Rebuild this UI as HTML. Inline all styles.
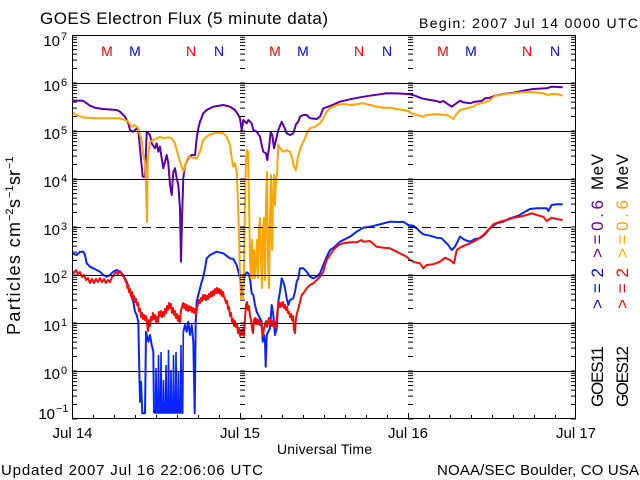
<!DOCTYPE html>
<html><head><meta charset="utf-8"><style>
html,body{margin:0;padding:0;background:#fff;}
svg{display:block;font-family:"Liberation Sans",sans-serif;}
</style></head><body>
<svg width="640" height="480" viewBox="0 0 640 480" xmlns="http://www.w3.org/2000/svg">
<rect width="640" height="480" fill="#fff"/>
<defs>
<path id="tl" d="M0,0h5M0,-14.45h5M0,-22.9h5M0,-28.9h5M0,-33.55h5M0,-37.35h5M0,-40.57h5M0,-43.35h5M0,-45.8h5"/>
<path id="tr" d="M0,0h-5M0,-14.45h-5M0,-22.9h-5M0,-28.9h-5M0,-33.55h-5M0,-37.35h-5M0,-40.57h-5M0,-43.35h-5M0,-45.8h-5"/>
<clipPath id="pc"><rect x="72" y="35" width="504" height="384"/></clipPath>
</defs>

<!-- titles -->
<text x="40" y="24" font-size="17" textLength="288" lengthAdjust="spacing">GOES Electron Flux (5 minute data)</text>
<text x="419" y="28" font-size="14" textLength="219" lengthAdjust="spacing">Begin: 2007 Jul 14 0000 UTC</text>

<!-- M/N markers -->
<g font-size="14" text-anchor="middle">
<text x="107" y="56" fill="#ff0000">M</text><text x="135" y="56" fill="#0000ff">M</text>
<text x="191" y="56" fill="#ff0000">N</text><text x="219" y="56" fill="#0000ff">N</text>
<text x="275" y="56" fill="#ff0000">M</text><text x="303" y="56" fill="#0000ff">M</text>
<text x="359" y="56" fill="#ff0000">N</text><text x="387" y="56" fill="#0000ff">N</text>
<text x="443" y="56" fill="#ff0000">M</text><text x="471" y="56" fill="#0000ff">M</text>
<text x="527" y="56" fill="#ff0000">N</text><text x="555" y="56" fill="#0000ff">N</text>
</g>

<!-- data -->
<g clip-path="url(#pc)" fill="none" stroke-width="2" stroke-linejoin="round">
<polyline stroke="#0a24ff" points="72,253.3 76.7,255 80,251.7 83.3,251.7 85,255 86.7,263.3 90,266.7 93.3,268.3 96.7,270 100,271.7 103.3,275 106.7,276.7 110,275 113.3,271.7 116.7,270 120,271.7 123.3,275 126.7,281.7 130,291.7 133.3,301.7 135,311.7 136.7,315 138.3,321.7 139,355 140,401.7 141,381.7 142.3,413.3 145,413.3 146,331.7 148.3,341.7 150,335 151.7,345 153.3,351.7 154,413"/>
<polyline stroke="#0a24ff" stroke-width="1.6" stroke-linejoin="miter" points="154,413 155.5,413 156,368 156.8,413 158,413 158.5,355 159.2,413 160.5,413 161,352 161.7,413 163,413 163.5,380 164.2,413 165.5,413 166,365 166.7,413 168,413 168.5,350 169.2,413 170.5,413 171,370 171.7,413 173,413 173.5,355 174.2,413 175.5,413 176,352 176.7,413 178,413 178.5,372 179.2,413 180.5,413 181,345 181.7,413 182.7,413 183.3,331.7"/>
<polyline stroke="#0a24ff" points="183.3,331.7 185,325 186.7,331.7 188.3,321.7 190,335 191.7,325 193.3,341.7 194.7,413.3 195.7,321.7 196.7,301.7 198.3,295 200,288.3 201.7,281.7 203.3,276.7 205,268.3 206.7,258.3 210,255 216.7,251.7 223.3,253.3 230,258.3 233.3,259 236.7,265 240,278.3 241.7,295 243.3,285 245,275 246.7,272.3 248.3,273.3 250,278.3 251.7,293.3 253.3,295 255,305 256.7,311.7 258.3,315 260,318.3 261.7,321.7 262.7,341.7 264,335 265,341.7 265.7,366.7 266.7,335 268.3,331.7 270,328.3 271.7,305 273.3,315 275,335 276.7,328.3 278.3,301.7 280,291.7 281.7,278.3 283.3,281.7 285,288.3 286.7,298.3 288.3,305 290,300 293.3,298.3 295,291.7 296.7,281.7 298.3,278.3 300,268.3 303.3,268.3 306.7,271.7 310,276.7 313.3,278.3 316.7,276.7 320,273.3 323.3,265 326.7,256.7 330,250 333.3,248 340,241.7 350,236.7 356.7,231.7 363.3,227.7 370,226.7 380,224.3 390,221.7 400,222 403.3,221.7 408.3,225 413.3,225.7 416.7,228.3 420,231.7 423.3,234.3 430,235.7 436.7,237.7 441.7,238.3 445,241.7 448.3,245 451.7,250 455,246.7 460,236.7 465,240 470,241.7 475,239 480,238.3 485,234.3 490,228.3 496.7,223.3 503.3,221.7 510,218.3 518.3,215.7 525,211.7 530,209 536.7,208.3 546.7,208.3 548.3,211 551.7,205 556.7,204.3 562.7,204.3"/>
<polyline stroke="#ff0a0a" points="72,271 74,273 76,270 78,274 80,272 82,277 84,275 86,280 88,278 90,283 92,279 94,283 96,279 98,282 100,278 102,282 104,279 106,283 108,280 110,282 112,277 114,275 116,272 118,274 120,271 122,275 124,277 125.5,281 126.7,283 127.5,288 128.3,285 129,292 130,289 131,296 132,292 133,299 134,296 135,302 136,299 137,305 138,303 139,311 140,309 141,317 142,313 143,319 144,315 145,320 146,316 147,322 148,331 149,320 150,326 151,317 152,320 153,313 154,319 155,315 156,322 157,317 158,322 159,312 160,316 161,311 162,317 163,312 164,316 165,309 166,313 167,306 168,310 169,303 170,308 171,304 172,313 173,308 174,315 175,311 176,318 177,314 178,321 179,316 180,322 181,310 182,307 183,303 184,308 185,304 186,310 187,305 188,311 189,306 190,310 191,307 192,312 193,308 194,313 195,309 196,314 197,308 198,304 199,300 200,303 201,298 202,301 203,295 204,299 205,295 206,300 207,296 208,299 209,294 210,297 211,292 212,296 213,291 214,295 215,289 216,293 217,288 218,293 219,289 220,294 221,290 222,296 223,292 224,297 225,299 226,303 227,301 228,309 229,307 230,316 231,313 232,322 233,319 234,326 235,321 236,327 237,324 238,333 239,328 240,336 241,330 242,335 243,329 244,336 245,318 246,305 247,302 248,310 249,306 250,316 251,320 252,328 253,333 254,320 255,318 256,324 257,319 258,324 259,320 260,325 261,322 262,330 263,336 264,328 265,325 266,321 267,327 268,322 269,318 270,324 271,320 272,326 273,321 274,327 275,322 276,326 277,315 278,306 279,302 280,307 281,303 282,306 283,302 284,308 285,305 286,310 287,307 288,313 289,312 290,317 291,314 292,320 293,316 294,330 295,333 296,318 297,313 298,310 299,306 300,302 301.7,295 303.3,293.3 306.7,288.3 310,285 313.3,283.3 316.7,280 320,276.7 323.3,271.7 325,265 326.7,260 330,255 333.3,250 336.7,246.7 340,244.3 343.3,243.3 350,242.3 356.7,242.3 361.7,240 363.3,241.7 370,241 376.7,246.7 383.3,247.7 390,248.3 396.7,251.7 403.3,255 406.7,256.7 410,260 413.3,261.7 420,263.3 423.3,268.3 426.7,265 433.3,264.3 440,261.7 445,257.7 450,260 454,263.3 456.7,250 461.7,246.7 470,243.3 476.7,240 483.3,235 488.3,230 493.3,224.3 500,221.7 506.7,220 513.3,217.7 520,216.7 526.7,215 531.7,213.3 536.7,215 543.3,216.7 546.7,221 551.7,217.7 556.7,219 562.7,220"/>
<polyline stroke="#5a00aa" points="72,100.5 83,100.7 86.7,103.3 90,105.7 95,107.7 103.3,109 116.7,110 120,111.7 125,116.7 128.3,123.3 130,130 133.3,131.7 136.7,128.3 138.3,130 140,148.3 142.7,176.7 145,176.7 146.7,131.7 150,135 151.7,143.3 155,148.3 156.7,143.3 158.3,151.7 160,146.7 161.7,158.3 163.3,168.3 165,161.7 166.7,155 168.3,163.3 170,185 171.7,195 173.3,171.7 175,168.3 176.7,178.3 178.3,185 180,208.3 181,261.7 182,218.3 183.3,178.3 185,165 188.3,158.3 191.7,155 195,155 196.7,138.3 198.3,128.3 200,121.7 203.3,113.3 206.7,110 213.3,106.7 223.3,105 230,106.7 235,110 238.3,115 240,118.3 241.7,130 243.3,120 246.7,123.3 248.3,120 251.7,123.3 253.3,130 256.7,131.7 260,136.7 261.7,145 263.3,151.7 266,153.3 267.3,160 269.3,145 270.7,131.7 272.3,135 274,148.3 276,140 278.3,130 281.7,121.7 283.3,125 286.7,133.3 290,135 293.3,133.3 296,124.3 298.3,121.7 300,116.7 303.3,115 306.7,115 310,118.3 316.7,119 320,116.7 323.3,108.3 330,106 340,101.7 350,99.3 360,97.3 370,95.7 386.7,93.3 400,93.5 410,94.3 415,95.7 421.7,98.3 430,100 436.7,101 440,102.3 443.3,101 446.7,103.3 451.7,106.7 455,104.3 460,100.7 463.3,102.3 470,103.3 475,101.7 481.7,101 485,98.3 490,97.7 495,95.7 503.3,94 513.3,92.7 523.3,90.7 533.3,89 546.7,88.3 551.7,86.7 562.7,87.3"/>
<polyline stroke="#ffa500" points="72,112.5 76.7,115 83.3,117.5 96.7,118.3 110,118.3 120,118.3 125,120 128.3,121.7 131.7,126.7 135,125 138.3,128.3 140,135 141.7,140 143.3,155 145,161.7 146,185 147,221.7 147.7,158.3 148.7,151.7 150,141.7 153.3,140 156.7,138.3 160,136.7 163.3,138.3 168.3,137.3 171.7,138.3 175,143.3 176.7,150 180,161.7 183.3,171.7 185,165 188.3,156.7 193.3,157.7 196.7,158.3 200,151.7 201.7,145 203.3,140 206.7,136.7 210,134.3 216.7,132.7 223.3,133.3 226.7,136.7 230,145 231.7,158.3 233.3,166.7 235,163.3 236.7,171.7 237.7,195 239,235 240,275 241,298 243,298 244,270 245,200 246,160 247,150 248,152 249,200 250,260 251,278 252,240 253,278 254,250 255,278 256,262 257,240 258,278 259,230 260,218 261,260 262,288 263,230 264,218 265,280 266,200 267,172 268,260 269,288 270,220 271,175 272,250 273,200 274,175 275,205 276,180 277,175 278.3,145 280,148.3 283.3,151.7 286.7,150 290,151.7 291.7,156.7 294,166.7 295.7,170 296.7,165 298.3,155 301.7,145 305,138.3 306.7,133.3 310,128.3 315,126.7 320,123.3 323.3,118.3 326.7,111.7 330,108.3 336.7,105 343.3,104 350,105 356.7,104.3 363.3,103.3 370,105 376.7,106.7 383.3,107.7 390,107.7 396.7,109 403.3,110 408.3,111 411.7,113.3 416.7,115 423.3,116.7 426.7,115 436.7,114.3 446.7,115 451.7,117.7 453.3,119 456,115 460,110 466.7,108.3 473.3,106.7 476.7,104.3 485,102.3 490,100 495,96 503.3,94.3 513.3,93.3 523.3,92.3 533.3,92.3 543.3,93.3 548.3,95 551.7,94 558.3,94.3 562.7,95.7"/>
</g>

<!-- grid lines -->
<g stroke="#000" stroke-width="1">
<line x1="72" y1="83.5" x2="576" y2="83.5"/>
<line x1="72" y1="131.5" x2="576" y2="131.5"/>
<line x1="72" y1="179.5" x2="576" y2="179.5"/>
<line x1="72" y1="227.5" x2="576" y2="227.5" stroke-dasharray="9 5"/>
<line x1="72" y1="275.5" x2="576" y2="275.5"/>
<line x1="72" y1="323.5" x2="576" y2="323.5"/>
<line x1="72" y1="371.5" x2="576" y2="371.5"/>
<rect x="72.5" y="35.5" width="503" height="383" fill="none"/>
</g>

<!-- log ticks -->
<g stroke="#000" stroke-width="1" fill="none">
<use href="#tl" x="72" y="419"/><use href="#tl" x="72" y="371"/><use href="#tl" x="72" y="323"/><use href="#tl" x="72" y="275"/><use href="#tl" x="72" y="227"/><use href="#tl" x="72" y="179"/><use href="#tl" x="72" y="131"/><use href="#tl" x="72" y="83"/>
<use href="#tl" x="240" y="419"/><use href="#tl" x="240" y="371"/><use href="#tl" x="240" y="323"/><use href="#tl" x="240" y="275"/><use href="#tl" x="240" y="227"/><use href="#tl" x="240" y="179"/><use href="#tl" x="240" y="131"/><use href="#tl" x="240" y="83"/>
<use href="#tl" x="408" y="419"/><use href="#tl" x="408" y="371"/><use href="#tl" x="408" y="323"/><use href="#tl" x="408" y="275"/><use href="#tl" x="408" y="227"/><use href="#tl" x="408" y="179"/><use href="#tl" x="408" y="131"/><use href="#tl" x="408" y="83"/>
<use href="#tr" x="576" y="419"/><use href="#tr" x="576" y="371"/><use href="#tr" x="576" y="323"/><use href="#tr" x="576" y="275"/><use href="#tr" x="576" y="227"/><use href="#tr" x="576" y="179"/><use href="#tr" x="576" y="131"/><use href="#tr" x="576" y="83"/>
<path d="M93.5,419v-4M114.5,419v-4M135.5,419v-4M156.5,419v-4M177.5,419v-4M198.5,419v-4M219.5,419v-4M240.5,419v-6M261.5,419v-4M282.5,419v-4M303.5,419v-4M324.5,419v-4M345.5,419v-4M366.5,419v-4M387.5,419v-4M408.5,419v-6M429.5,419v-4M450.5,419v-4M471.5,419v-4M492.5,419v-4M513.5,419v-4M534.5,419v-4M555.5,419v-4"/>
</g>

<!-- y tick labels -->
<g font-size="15" text-anchor="end">
<text x="60" y="46">10</text>
<text x="60" y="91">10</text>
<text x="60" y="139">10</text>
<text x="60" y="187">10</text>
<text x="60" y="235">10</text>
<text x="60" y="283">10</text>
<text x="60" y="331">10</text>
<text x="60" y="379">10</text>
<text x="55" y="419">10</text>
</g>
<g font-size="11">
<text x="61" y="40">7</text>
<text x="61" y="86">6</text>
<text x="61" y="134">5</text>
<text x="61" y="182">4</text>
<text x="61" y="230">3</text>
<text x="61" y="278">2</text>
<text x="61" y="326">1</text>
<text x="61" y="374">0</text>
<text x="56" y="412">−1</text>
</g>

<!-- x labels -->
<g font-size="15" text-anchor="middle">
<text x="72.5" y="438">Jul 14</text>
<text x="240" y="438">Jul 15</text>
<text x="408" y="438">Jul 16</text>
<text x="576" y="438">Jul 17</text>
</g>
<text x="277" y="454" font-size="14" textLength="95" lengthAdjust="spacing">Universal Time</text>

<!-- footer -->
<text x="1" y="475" font-size="15" textLength="262" lengthAdjust="spacing">Updated 2007 Jul 16 22:06:06 UTC</text>
<text x="437" y="475" font-size="15" textLength="202" lengthAdjust="spacing">NOAA/SEC Boulder, CO USA</text>

<!-- y axis title -->
<g transform="translate(20,335) rotate(-90)">
<text x="0" y="0" font-size="18" textLength="113" lengthAdjust="spacing">Particles cm</text>
<text x="114" y="-7" font-size="11">−2</text>
<text x="127" y="0" font-size="18">s</text>
<text x="137" y="-7" font-size="11">−1</text>
<text x="150" y="0" font-size="18">sr</text>
<text x="166" y="-7" font-size="11">−1</text>
</g>

<!-- right legend -->
<g font-size="17">
<text transform="translate(603,407) rotate(-90)" textLength="61" lengthAdjust="spacing">GOES11</text>
<text transform="translate(603,309) rotate(-90)" textLength="41" lengthAdjust="spacing" fill="#0000ff">&gt;=2</text>
<text transform="translate(603,258) rotate(-90)" textLength="58" lengthAdjust="spacing" fill="#5a00aa">&gt;=0.6</text>
<text transform="translate(603,190) rotate(-90)" textLength="36" lengthAdjust="spacing">MeV</text>
<text transform="translate(628,407) rotate(-90)" textLength="61" lengthAdjust="spacing">GOES12</text>
<text transform="translate(628,309) rotate(-90)" textLength="41" lengthAdjust="spacing" fill="#ff0000">&gt;=2</text>
<text transform="translate(628,258) rotate(-90)" textLength="58" lengthAdjust="spacing" fill="#ffa500">&gt;=0.6</text>
<text transform="translate(628,190) rotate(-90)" textLength="36" lengthAdjust="spacing">MeV</text>
</g>
</svg>
</body></html>
